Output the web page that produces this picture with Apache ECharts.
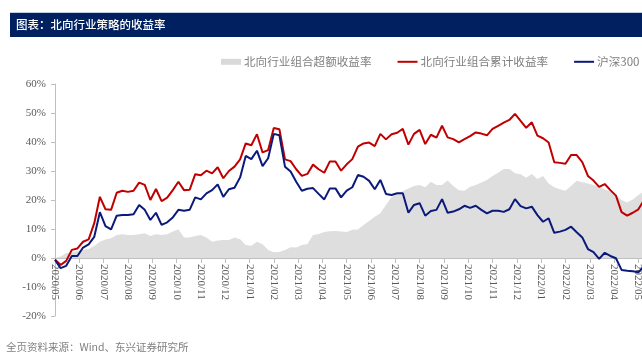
<!DOCTYPE html>
<html><head><meta charset="utf-8">
<script src="https://cdn.jsdelivr.net/npm/echarts@6/dist/echarts.min.js"></script>
<style>html,body{margin:0;padding:0;background:#fff}#c{width:642px;height:356px}</style>
</head><body><div id="c"></div>
<script>
// Month tick labels (one per month, weekly data underneath)
const monthLabels = ['2020/05','2020/06','2020/07','2020/08','2020/09','2020/10','2020/11','2020/12',
  '2021/01','2021/02','2021/03','2021/04','2021/05','2021/06','2021/07','2021/08','2021/09','2021/10',
  '2021/11','2021/12','2022/01','2022/02','2022/03','2022/04','2022/05'];

const seriesNames = ['北向行业组合超额收益率','北向行业组合累计收益率','沪深300'];

// Weekly values (%)
const excessReturn = [0,0.5,1.6,2.0,2.4,2.8,3.1,4.1,5.6,6.4,6.8,7.9,8.2,7.9,7.9,8.2,8.5,7.6,8.2,7.9,
  8.2,9.1,9.9,7.1,7.1,7.6,7.9,7.1,5.6,6.0,6.2,6.2,7.1,6.5,4.5,4.2,5.6,4.7,2.8,2.0,
  2.1,2.8,3.7,3.6,4.5,4.8,7.9,8.3,9.0,9.2,9.3,9.1,9.0,9.7,9.8,11.4,12.8,14.2,15.4,18.3,
  21.0,22.0,23.0,24.0,24.8,25.2,24.4,26.3,25.2,25.2,26.7,24.8,23.4,23.2,24.6,25.2,26.0,26.9,28.3,29.4,
  30.7,30.7,29.2,28.9,27.7,29.0,27.2,28.3,25.7,24.4,23.7,23.2,24.8,26.6,26.1,25.7,25.2,24.6,23.7,22.9,
  21.7,20.0,19.1,20.2,21.7,22.9];

const portfolioReturn = [-0.5,-2.4,-1.0,2.8,3.3,5.6,6.4,12.0,21.1,16.8,16.6,22.5,23.2,22.8,23.2,26.0,25.2,20.0,23.8,19.6,
  20.8,23.4,26.3,23.4,23.5,28.9,28.5,30.1,29.2,31.3,27.5,30.0,31.5,34.0,39.5,38.9,42.7,36.4,37.2,44.8,
  44.4,34.0,33.4,30.6,28.3,29.0,32.2,30.6,29.4,33.3,33.3,30.1,32.3,34.1,38.4,39.5,39.8,38.6,42.8,40.9,
  42.7,43.2,44.5,39.1,42.8,44.2,39.3,42.5,41.5,45.6,41.6,41.0,39.9,41.0,42.0,43.3,42.9,42.3,44.5,45.6,
  46.7,47.6,49.7,47.3,44.9,46.8,42.2,41.3,39.8,33.0,32.8,32.5,35.5,35.5,33.1,28.3,26.7,24.5,25.5,23.4,
  21.5,15.8,14.6,15.6,16.8,20.0];

const hs300Return = [-0.7,-3.5,-2.7,0.7,0.7,3.6,4.7,7.3,15.8,11.0,9.9,14.6,14.8,14.8,15.1,18.3,16.6,13.1,15.6,11.4,
  12.3,14.0,16.6,16.3,16.6,20.9,20.2,22.3,23.4,25.4,21.1,23.7,24.2,27.8,35.2,34.1,37.0,31.7,34.4,42.8,
  42.3,31.5,29.8,26.3,23.2,23.9,24.1,22.1,20.2,24.0,24.0,20.9,23.2,24.4,28.6,28.0,26.6,23.7,26.9,22.1,
  21.7,22.3,22.3,15.6,18.3,18.9,14.6,16.2,16.6,20.3,15.6,16.0,16.8,18.0,17.3,18.0,16.6,15.4,16.3,16.3,
  15.9,16.8,20.3,17.9,17.1,17.7,14.8,12.5,13.7,8.7,9.1,9.7,10.8,8.9,7.1,3.1,2.0,-0.3,1.8,0.7,
  -0.1,-4.1,-4.4,-4.6,-4.9,-3.0];

const yMin = -20, yMax = 60;
const weeksPerMonth = 52 / 12;
const toPairs = arr => arr.map((v, i) => [i / weeksPerMonth, v]);
const xMax = (excessReturn.length - 1) / weeksPerMonth;

const gridTop = 84, gridBottom = 40, chartH = 356;
const plotH = chartH - gridTop - gridBottom;
// shift the category axis up to the 0% line (labels follow it)
const zeroOffset = -plotH * (0 - yMin) / (yMax - yMin);

const serif = '"Liberation Serif","Times New Roman",serif';
const cjk = '"Noto Sans CJK SC","Noto Sans",sans-serif';
const lineIcon = 'path://M0,0H20V2H0Z';

const chart = echarts.init(document.getElementById('c'), null, {renderer: 'canvas'});
chart.setOption({
  animation: false,
  backgroundColor: '#ffffff',
  graphic: [
    {type: 'rect', shape: {x: 10, y: 12, width: 632, height: 1}, style: {fill: '#c5cfe0'}},
    {type: 'rect', shape: {x: 10, y: 13, width: 632, height: 24}, style: {fill: '#002060'}},
    {type: 'text', x: 16, y: 25, style: {text: '图表：北向行业策略的收益率', fill: '#ffffff',
      font: '500 11.5px ' + cjk, verticalAlign: 'middle'}},
    {type: 'text', x: 6, y: 347, style: {text: '全页资料来源：Wind、东兴证券研究所', fill: '#808080',
      font: '10.5px ' + cjk, verticalAlign: 'middle'}}
  ],
  legend: {
    left: 221, top: 56, padding: 0, width: 700,
    itemWidth: 20, itemHeight: 6, itemGap: 26, symbolKeepAspect: true,
    textStyle: {color: '#808080', fontSize: 11.6, fontFamily: cjk, padding: [0, 0, 0, -2]},
    data: [{name: seriesNames[0], icon: 'rect'},
           {name: seriesNames[1], icon: lineIcon},
           {name: seriesNames[2], icon: lineIcon}]
  },
  grid: {left: 55, right: -2, top: gridTop, bottom: gridBottom, containLabel: false, outerBoundsMode: 'none'},
  xAxis: {
    type: 'value', min: 0, max: xMax, interval: 1, offset: zeroOffset,
    axisLine: {onZero: false, lineStyle: {color: '#bfbfbf', width: 1}},
    axisTick: {show: true, length: 5, lineStyle: {color: '#bfbfbf'}},
    splitLine: {show: false},
    axisLabel: {
      rotate: -90, margin: 6, color: '#595959', fontSize: 11, fontFamily: serif,
      showMaxLabel: false, hideOverlap: false,
      formatter: v => {
        const k = Math.round(v);
        return Math.abs(v - k) < 1e-6 && monthLabels[k] ? monthLabels[k] : '';
      }
    }
  },
  yAxis: {
    type: 'value', min: yMin, max: yMax, interval: 10,
    axisLine: {show: true, lineStyle: {color: '#bfbfbf', width: 1}},
    axisTick: {show: true, length: 4, lineStyle: {color: '#bfbfbf'}},
    splitLine: {show: false},
    axisLabel: {formatter: '{value}%', color: '#595959', fontSize: 11, fontFamily: serif, margin: 9}
  },
  series: [
    {name: seriesNames[0], type: 'line', data: toPairs(excessReturn), symbol: 'none',
      color: '#d9d9d9', itemStyle: {color: '#d9d9d9'},
      lineStyle: {width: 0, color: '#d9d9d9'}, areaStyle: {color: '#dedede', opacity: 1}, z: 1},
    {name: seriesNames[1], type: 'line', data: toPairs(portfolioReturn), symbol: 'none',
      color: '#c00000', itemStyle: {color: '#c00000'}, lineStyle: {width: 2, color: '#c00000'}, z: 3},
    {name: seriesNames[2], type: 'line', data: toPairs(hs300Return), symbol: 'none',
      color: '#0b1a7a', itemStyle: {color: '#0b1a7a'}, lineStyle: {width: 2, color: '#0b1a7a'}, z: 3}
  ]
});
</script>
</body></html>
